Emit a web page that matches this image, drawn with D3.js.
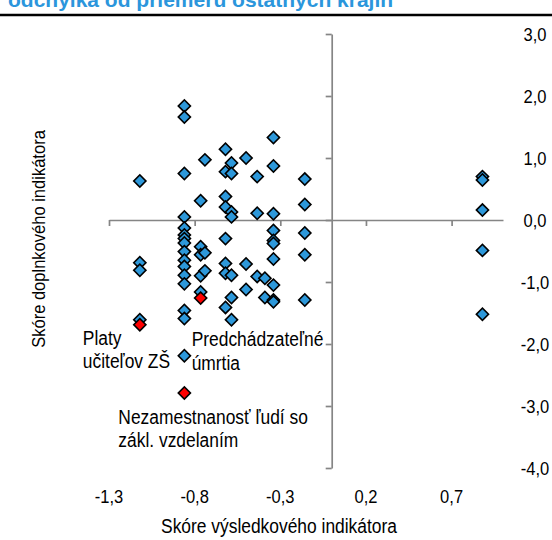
<!DOCTYPE html>
<html>
<head>
<meta charset="utf-8">
<script src="https://cdn.jsdelivr.net/npm/d3@7"></script>
<style>
  body { margin: 0; background: #fff; }
  text { font-family: "Liberation Sans", Arial, sans-serif; fill: #000; }
</style>
</head>
<body>
<div id="vis"></div>
<script>
// chart values
var chartTitle = 'odchýlka od priemeru ostatných krajín';
var xTitle = 'Skóre výsledkového indikátora';
var yTitle = 'Skóre doplnkového indikátora';

var xTicks = [-1.3, -0.8, -0.3, 0.2, 0.7];
var yTicks = [3, 2, 1, 0, -1, -2, -3, -4];

// all indicators (blue)
var blueX = [
  -1.12, -1.12, -1.12, -1.12,
  -0.86, -0.86, -0.86, -0.86, -0.86, -0.86, -0.86, -0.86, -0.86, -0.86, -0.86, -0.86, -0.86, -0.86, -0.86, -0.86,
  -0.765, -0.765, -0.765, -0.765, -0.765,
  -0.74, -0.74, -0.74,
  -0.62, -0.62, -0.62, -0.62, -0.62, -0.62, -0.62, -0.62,
  -0.585, -0.585, -0.585, -0.585, -0.585, -0.585, -0.585,
  -0.50, -0.50, -0.50,
  -0.435, -0.435, -0.435,
  -0.39, -0.39,
  -0.34, -0.34, -0.34, -0.34, -0.34, -0.34, -0.34, -0.34, -0.34, -0.34,
  -0.157, -0.157, -0.157, -0.157, -0.157,
  0.88, 0.88, 0.88, 0.88, 0.88
];
var blueY = [
  0.63, -0.69, -0.81, -1.61,
  1.84, 1.66, 0.75, 0.05, -0.13, -0.24, -0.30, -0.37, -0.51, -0.65, -0.75, -0.89, -1.03, -1.46, -1.59, -2.19,
  0.31, -0.43, -0.56, -0.90, -1.16,
  0.97, -0.53, -0.82,
  1.14, 0.78, 0.38, 0.21, -0.30, -0.70, -0.86, -1.41,
  0.92, 0.75, 0.13, 0.05, -0.89, -1.25, -1.61,
  1.00, -0.71, -1.12,
  0.70, 0.11, -0.91,
  -0.94, -1.25,
  1.33, 0.87, 0.10, -0.17, -0.33, -0.38, -0.63, -1.05, -1.29, -1.32,
  0.66, 0.25, -0.21, -0.56, -1.29,
  0.70, 0.645, 0.16, -0.49, -1.52
];

// highlighted indicators (red)
var redNames = [['Platy', 'učiteľov ZŠ'], ['Predchádzateľné', 'úmrtia'], ['Nezamestnanosť ľudí so', 'zákl. vzdelaním']];
var redX = [-1.12, -0.765, -0.86];
var redY = [-1.69, -1.26, -2.79];

var width = 552, height = 540;
var squeeze = 0.87; // the labels use a narrow face

var svg = d3.select('#vis').append('svg')
  .attr('width', width)
  .attr('height', height);

var x = d3.scaleLinear().domain([-1.3, 1.0]).range([109, 503]);
var y = d3.scaleLinear().domain([-4, 3]).range([468, 34]);

var fmt = d3.formatLocale({ decimal: ',', thousands: ' ', grouping: [3], currency: ['', ''], minus: '-' }).format('.1f');

// narrow text helper
function label(sel, str, tx, ty, size, anchor, rot) {
  return sel.append('text')
    .attr('transform', 'translate(' + tx + ',' + ty + ')' + (rot ? ' rotate(' + rot + ')' : '') + ' scale(' + squeeze + ',1)')
    .attr('font-size', size)
    .attr('text-anchor', anchor || 'start')
    .text(str);
}

// title, cut off at the top like in the source
svg.append('text')
  .attr('x', 8)
  .attr('y', 7)
  .attr('font-size', 21)
  .attr('font-weight', 'bold')
  .style('fill', '#2b96dc')
  .text(chartTitle);

svg.append('line')
  .attr('x1', 0).attr('x2', width)
  .attr('y1', 15).attr('y2', 15)
  .attr('stroke', '#000')
  .attr('stroke-width', 2.6);

// axes cross at zero
svg.append('g')
  .attr('transform', 'translate(0,' + y(0) + ')')
  .call(d3.axisBottom(x).tickValues(xTicks).tickSize(6).tickSizeOuter(0).tickFormat(''));

svg.append('g')
  .attr('transform', 'translate(' + x(0) + ',0)')
  .call(d3.axisLeft(y).tickValues(yTicks).tickSize(6).tickSizeOuter(0).tickFormat(''));

svg.selectAll('.domain, .tick line')
  .attr('stroke', '#858585')
  .attr('stroke-width', 1.7);

// tick labels sit outside the plot
xTicks.forEach(function (v) {
  label(svg, fmt(v), x(v), 503, 19, 'middle');
});
yTicks.forEach(function (v) {
  label(svg, fmt(v), 535, y(v) + 7, 19, 'middle');
});

label(svg, xTitle, 279, 533, 20, 'middle');
label(svg, yTitle, 45, 239, 19, 'middle', -90);

// markers
var diamond = d3.symbol().type(d3.symbolSquare).size(74);

var blue = blueX.map(function (d, i) { return { x: d, y: blueY[i] }; });
var red = redX.map(function (d, i) { return { x: d, y: redY[i], name: redNames[i] }; });

svg.selectAll('.blue')
  .data(blue)
  .enter().append('path')
  .attr('class', 'blue')
  .attr('d', diamond)
  .attr('transform', function (d) { return 'translate(' + x(d.x) + ',' + y(d.y) + ') rotate(45)'; })
  .attr('fill', '#2d98da')
  .attr('stroke', '#000')
  .attr('stroke-width', 1.6);

svg.selectAll('.red')
  .data(red)
  .enter().append('path')
  .attr('class', 'red')
  .attr('d', diamond)
  .attr('transform', function (d) { return 'translate(' + x(d.x) + ',' + y(d.y) + ') rotate(45)'; })
  .attr('fill', '#ff0000')
  .attr('stroke', '#000')
  .attr('stroke-width', 1.6);

// annotations, offset from their red markers
var labelOffsets = [[-57, 20], [-9, 48], [-66, 31]];
red.forEach(function (d, i) {
  var px = x(d.x) + labelOffsets[i][0];
  var py = y(d.y) + labelOffsets[i][1];
  d.name.forEach(function (line, j) {
    label(svg, line, px, py + j * 23.5, 20);
  });
});
</script>
</body>
</html>
